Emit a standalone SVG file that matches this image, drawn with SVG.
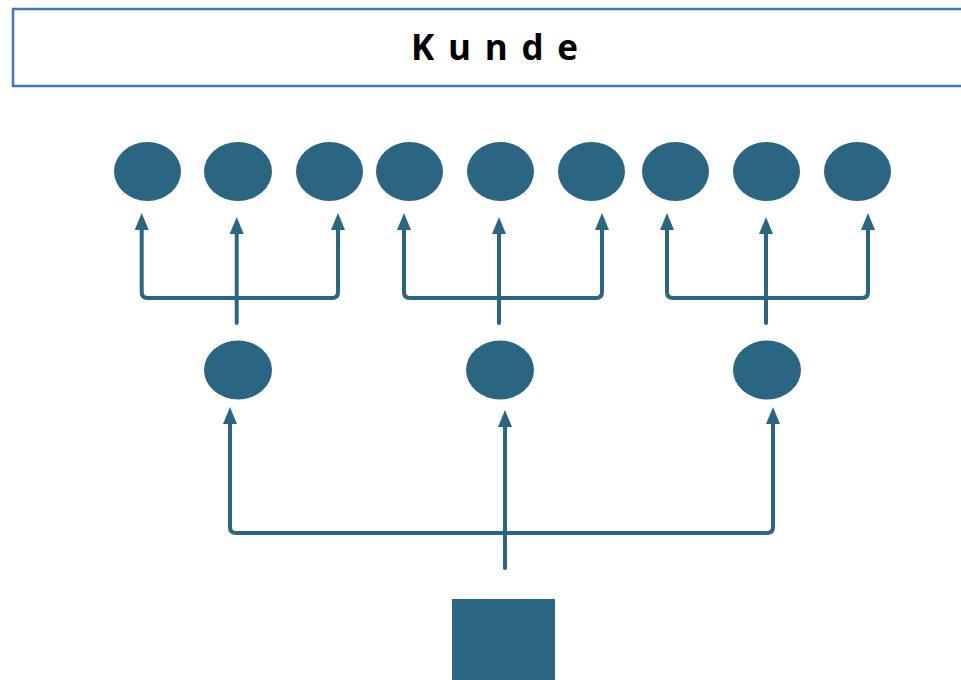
<svg xmlns="http://www.w3.org/2000/svg" width="961" height="680" viewBox="0 0 961 680">
<style>
.node{fill:#2A6682}
.conn{fill:none;stroke:#2A6682;stroke-width:4;stroke-linejoin:round;stroke-linecap:round}
.title{font-family:"Open Sans","Liberation Sans",sans-serif;font-weight:bold;font-size:35px;fill:#000}
</style>
<defs>
<marker id="ah" markerUnits="userSpaceOnUse" markerWidth="18" markerHeight="14" viewBox="0 0 18 14" refX="2" refY="7" orient="auto">
<path d="M0,0 L17,7 L0,14 z" fill="#2A6682"/>
</marker>
</defs>
<rect width="961" height="680" fill="#fff"/>
<g id="kunde">
<rect x="13" y="9" width="960" height="77" fill="#fff" stroke="#4472C4" stroke-width="2.5"/>
<text class="title" x="411" y="60" textLength="167" lengthAdjust="spacing">Kunde</text>
</g>
<g id="connectors">
<path class="conn" d="M236.7,298 H147.7 Q141.7,298 141.7,292 V228" marker-end="url(#ah)"/>
<path class="conn" d="M236.7,298 H332 Q338,298 338,292 V228" marker-end="url(#ah)"/>
<path class="conn" d="M236.7,323 V232" marker-end="url(#ah)"/>
<path class="conn" d="M499,298 H410 Q404,298 404,292 V228" marker-end="url(#ah)"/>
<path class="conn" d="M499,298 H596 Q602,298 602,292 V228" marker-end="url(#ah)"/>
<path class="conn" d="M499,323 V232" marker-end="url(#ah)"/>
<path class="conn" d="M766,298 H673 Q667,298 667,292 V228" marker-end="url(#ah)"/>
<path class="conn" d="M766,298 H862 Q868,298 868,292 V228" marker-end="url(#ah)"/>
<path class="conn" d="M766,323 V232" marker-end="url(#ah)"/>
<path class="conn" d="M505,533 H236 Q230,533 230,527 V422" marker-end="url(#ah)"/>
<path class="conn" d="M505,533 H767 Q773,533 773,527 V422" marker-end="url(#ah)"/>
<path class="conn" d="M505,568 V425" marker-end="url(#ah)"/>
</g>
<g id="leaf1"><ellipse class="node" cx="147.5" cy="171.5" rx="33.5" ry="29.5"/></g>
<g id="leaf2"><ellipse class="node" cx="238" cy="171.5" rx="34" ry="29.5"/></g>
<g id="leaf3"><ellipse class="node" cx="329.5" cy="171.5" rx="33.5" ry="29.5"/></g>
<g id="leaf4"><ellipse class="node" cx="409.5" cy="171.5" rx="33.5" ry="29.5"/></g>
<g id="leaf5"><ellipse class="node" cx="500.5" cy="171.5" rx="33.5" ry="29.5"/></g>
<g id="leaf6"><ellipse class="node" cx="591.5" cy="171.5" rx="33.5" ry="29.5"/></g>
<g id="leaf7"><ellipse class="node" cx="675.5" cy="171.5" rx="33.5" ry="29.5"/></g>
<g id="leaf8"><ellipse class="node" cx="766.5" cy="171.5" rx="33.5" ry="29.5"/></g>
<g id="leaf9"><ellipse class="node" cx="857.5" cy="171.5" rx="33.5" ry="29.5"/></g>
<g id="mid1"><ellipse class="node" cx="238" cy="370" rx="34" ry="29.5"/></g>
<g id="mid2"><ellipse class="node" cx="500" cy="370" rx="34" ry="29.5"/></g>
<g id="mid3"><ellipse class="node" cx="767" cy="370" rx="34" ry="29.5"/></g>
<g id="root"><rect class="node" x="452" y="599" width="103" height="82"/></g>
</svg>
